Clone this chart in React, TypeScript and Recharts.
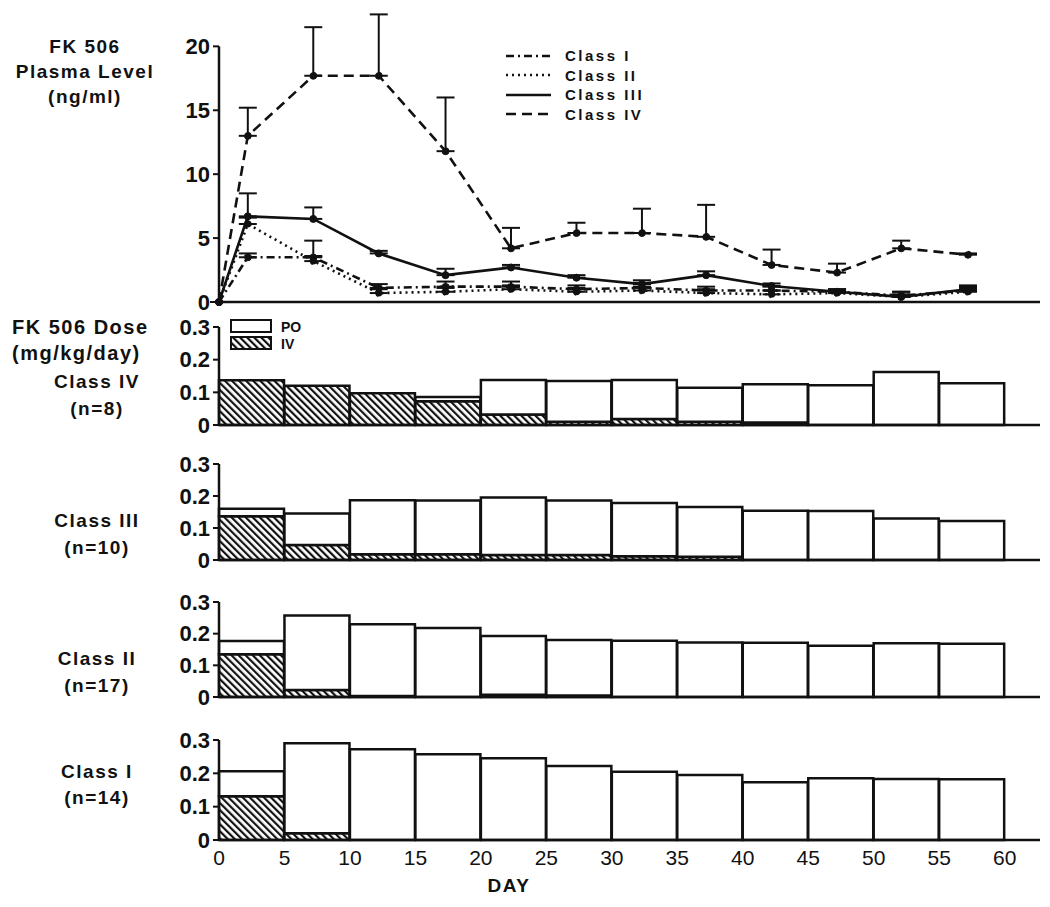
import React from 'react';
import {
  LineChart,
  Line,
  BarChart,
  Bar,
  XAxis,
  YAxis,
  ErrorBar,
  ReferenceLine,
  Legend,
} from 'recharts';

const FONT = "'Liberation Sans', Arial, Helvetica, sans-serif";
const INK = '#111';

// FK 506 plasma level (ng/ml): mean and upper SE per sampling day
const sampleDays = [0, 2.2, 7.2, 12.2, 17.3, 22.3, 27.3, 32.3, 37.2, 42.2, 47.2, 52.1, 57.2];
const classI = [0, 3.5, 3.5, 1.1, 1.2, 1.2, 1.0, 1.1, 0.9, 0.9, 0.8, 0.5, 0.9];
const classIErr = [0, 0.3, 1.3, 0.3, 0.4, 0.4, 0.3, 0.4, 0.3, 0.3, 0.2, 0.3, 0.3];
const classII = [0, 6.1, 3.2, 0.7, 0.8, 1.0, 0.8, 0.9, 0.7, 0.6, 0.7, 0.4, 0.8];
const classIIErr = [0, 0.5, 0.4, 0.3, 0.3, 0.3, 0.3, 0.3, 0.3, 0.3, 0.2, 0.2, 0.3];
const classIII = [0, 6.7, 6.5, 3.8, 2.1, 2.7, 1.9, 1.4, 2.1, 1.25, 0.8, 0.4, 1.0];
const classIIIErr = [0, 1.8, 0.9, 0.2, 0.5, 0.2, 0.2, 0.3, 0.3, 0.2, 0.2, 0.4, 0.3];
const classIV = [0, 13.0, 17.7, 17.7, 11.8, 4.2, 5.4, 5.4, 5.1, 2.9, 2.3, 4.2, 3.7];
const classIVErr = [0, 2.2, 3.8, 4.8, 4.2, 1.6, 0.8, 1.9, 2.5, 1.2, 0.7, 0.6, 0.1];

const seriesNames = ['Class I', 'Class II', 'Class III', 'Class IV'];
const seriesDash = ['8 4 2 4', '2 4', '0', '10 6'];
const plasmaTicks = [0, 5, 10, 15, 20];

// FK 506 dose (mg/kg/day) in 5-day blocks
const doseMid = [2.5, 7.5, 12.5, 17.5, 22.5, 27.5, 32.5, 37.5, 42.5, 47.5, 52.5, 57.5];
const dayTicks = [0, 5, 10, 15, 20, 25, 30, 35, 40, 45, 50, 55, 60];
const doseTicks = [0, 0.1, 0.2, 0.3];

const ivClassIV = [0.137, 0.12, 0.097, 0.073, 0.032, 0.01, 0.018, 0.01, 0.008, 0, 0, 0];
const poClassIV = [0, 0, 0, 0.013, 0.106, 0.125, 0.12, 0.104, 0.117, 0.122, 0.162, 0.128];
const ivClassIII = [0.137, 0.047, 0.018, 0.018, 0.016, 0.016, 0.012, 0.01, 0, 0, 0, 0];
const poClassIII = [0.023, 0.098, 0.169, 0.168, 0.179, 0.17, 0.166, 0.156, 0.154, 0.153, 0.13, 0.122];
const ivClassII = [0.135, 0.022, 0.003, 0, 0.007, 0.005, 0, 0, 0, 0, 0, 0];
const poClassII = [0.042, 0.235, 0.227, 0.218, 0.186, 0.175, 0.178, 0.172, 0.171, 0.162, 0.17, 0.168];
const ivClassI = [0.131, 0.02, 0, 0, 0, 0, 0, 0, 0, 0, 0, 0];
const poClassI = [0.075, 0.27, 0.272, 0.257, 0.245, 0.222, 0.205, 0.195, 0.173, 0.185, 0.183, 0.182];

const plasmaRows = sampleDays.map((day, i) => ({
  day,
  c1: classI[i],
  c1e: [0, classIErr[i]],
  c2: classII[i],
  c2e: [0, classIIErr[i]],
  c3: classIII[i],
  c3e: [0, classIIIErr[i]],
  c4: classIV[i],
  c4e: [0, classIVErr[i]],
}));

const panels = [
  { iv: ivClassIV, po: poClassIV, top: 327, bottom: 425, name: 'Class IV', n: '(n=8)' },
  { iv: ivClassIII, po: poClassIII, top: 464, bottom: 560, name: 'Class III', n: '(n=10)' },
  { iv: ivClassII, po: poClassII, top: 602, bottom: 697, name: 'Class II', n: '(n=17)' },
  { iv: ivClassI, po: poClassI, top: 740, bottom: 840, name: 'Class I', n: '(n=14)' },
];

const X_DOMAIN: [number, number] = [0, 62.7];
const MARGIN_LEFT = 179;
const Y_WIDTH = 40;
const PANEL_PAD = 14;

const tickStyle = { fill: INK, fontFamily: FONT, fontWeight: 700, fontSize: 22 };

function Text({ x, y, children, align = 'center', size = 19 }: any) {
  return (
    <div
      style={{
        position: 'absolute',
        left: x,
        top: y,
        transform: align === 'center' ? 'translate(-50%, -50%)' : 'translate(0, -50%)',
        fontFamily: FONT,
        fontWeight: 700,
        fontSize: size,
        letterSpacing: 1.5,
        whiteSpace: 'nowrap',
        color: INK,
      }}
    >
      {children}
    </div>
  );
}

function lineLegend() {
  return (
    <div style={{ fontFamily: FONT, fontWeight: 700, fontSize: 15, letterSpacing: 2.5, color: INK }}>
      {seriesNames.map((name, i) => (
        <div key={name} style={{ display: 'flex', alignItems: 'center', height: 19.5 }}>
          <svg width={46} height={8}>
            <line x1={0} y1={4} x2={45} y2={4} stroke={INK} strokeWidth={2.5} strokeDasharray={seriesDash[i]} />
          </svg>
          <span style={{ marginLeft: 13 }}>{name}</span>
        </div>
      ))}
    </div>
  );
}

function doseLegend() {
  return (
    <div style={{ fontFamily: FONT, fontWeight: 700, fontSize: 14, color: INK }}>
      <div style={{ display: 'flex', alignItems: 'center', height: 17 }}>
        <svg width={42} height={15}>
          <rect x={1} y={1} width={40} height={12} fill="#fff" stroke={INK} strokeWidth={2} />
        </svg>
        <span style={{ marginLeft: 9 }}>PO</span>
      </div>
      <div style={{ display: 'flex', alignItems: 'center', height: 17 }}>
        <svg width={42} height={15}>
          <defs>
            <pattern id="hatchLegend" width={5} height={5} patternUnits="userSpaceOnUse" patternTransform="rotate(-45)">
              <rect width={5} height={5} fill="#fff" />
              <rect width={2.2} height={5} fill={INK} />
            </pattern>
          </defs>
          <rect x={1} y={1} width={40} height={12} fill="url(#hatchLegend)" stroke={INK} strokeWidth={2} />
        </svg>
        <span style={{ marginLeft: 9 }}>IV</span>
      </div>
    </div>
  );
}

function PlasmaChart() {
  const keys = ['c1', 'c2', 'c3', 'c4'];
  return (
    <div style={{ position: 'absolute', left: 0, top: 0 }}>
      <LineChart width={1050} height={322} data={plasmaRows} margin={{ top: 8, right: 10, bottom: 10, left: MARGIN_LEFT }}>
        <XAxis
          type="number"
          dataKey="day"
          domain={X_DOMAIN}
          ticks={dayTicks}
          interval={0}
          height={10}
          tick={false}
          tickSize={7}
          axisLine={{ stroke: INK, strokeWidth: 2.5 }}
          tickLine={{ stroke: INK, strokeWidth: 2 }}
        />
        <YAxis
          type="number"
          domain={[0, 23]}
          ticks={plasmaTicks}
          interval={0}
          width={Y_WIDTH}
          tickSize={6}
          tickMargin={3}
          axisLine={false}
          tickLine={{ stroke: INK, strokeWidth: 2 }}
          tick={tickStyle}
        />
        <ReferenceLine
          segment={[
            { x: 0, y: 0 },
            { x: 0, y: 20 },
          ]}
          stroke={INK}
          strokeWidth={2.5}
        />
        <Legend
          layout="vertical"
          align="center"
          verticalAlign="middle"
          content={lineLegend}
          wrapperStyle={{ top: 46, left: 506, width: 220, height: 80 }}
        />
        {keys.map((k, i) => (
          <Line
            key={k}
            type="linear"
            dataKey={k}
            name={seriesNames[i]}
            stroke={INK}
            strokeWidth={2.6}
            strokeDasharray={seriesDash[i]}
            dot={{ r: 3.5, fill: INK, stroke: INK, strokeWidth: 1 }}
            activeDot={false}
            isAnimationActive={false}
          >
            <ErrorBar dataKey={`${k}e`} direction="y" width={9} stroke={INK} strokeWidth={2} />
          </Line>
        ))}
      </LineChart>
    </div>
  );
}

function DosePanel({ idx }: { idx: number }) {
  const p = panels[idx];
  const last = idx === panels.length - 1;
  const xh = last ? 36 : 12;
  const h = PANEL_PAD + (p.bottom - p.top) + xh;
  const rows = doseMid.map((mid, i) => ({ mid, iv: p.iv[i], po: p.po[i] }));
  return (
    <div style={{ position: 'absolute', left: 0, top: p.top - PANEL_PAD }}>
      <BarChart
        width={1050}
        height={h}
        data={rows}
        margin={{ top: PANEL_PAD, right: 10, bottom: 0, left: MARGIN_LEFT }}
        barCategoryGap={0}
        barGap={0}
      >
        <defs>
          <pattern id={`hatch${idx}`} width={5} height={5} patternUnits="userSpaceOnUse" patternTransform="rotate(-45)">
            <rect width={5} height={5} fill="#fff" />
            <rect width={2.2} height={5} fill={INK} />
          </pattern>
        </defs>
        <XAxis
          type="number"
          dataKey="mid"
          domain={X_DOMAIN}
          ticks={dayTicks}
          interval={0}
          height={xh}
          tickSize={6}
          tickMargin={4}
          tickLine={false}
          axisLine={{ stroke: INK, strokeWidth: 2.5 }}
          tick={last ? { fill: INK, fontFamily: FONT, fontSize: 21 } : false}
        />
        <YAxis
          type="number"
          domain={[0, 0.3]}
          ticks={doseTicks}
          interval={0}
          width={Y_WIDTH}
          tickSize={6}
          tickMargin={3}
          axisLine={{ stroke: INK, strokeWidth: 2.5 }}
          tickLine={{ stroke: INK, strokeWidth: 2 }}
          tick={tickStyle}
          tickFormatter={(v: number) => String(v)}
        />
        {idx === 0 && (
          <Legend
            layout="vertical"
            align="center"
            verticalAlign="middle"
            content={doseLegend}
            wrapperStyle={{ top: PANEL_PAD - 9, left: 230, width: 90, height: 36 }}
          />
        )}
        <Bar dataKey="iv" stackId="dose" fill={`url(#hatch${idx})`} stroke={INK} strokeWidth={2.5} isAnimationActive={false} />
        <Bar dataKey="po" stackId="dose" fill="#fff" stroke={INK} strokeWidth={2.5} isAnimationActive={false} />
      </BarChart>
    </div>
  );
}

export default function App() {
  return (
    <div style={{ position: 'absolute', left: 0, top: 0, width: 1050, height: 907, background: '#fff', overflow: 'hidden' }}>
      <PlasmaChart />
      {panels.map((p, i) => (
        <DosePanel key={p.name} idx={i} />
      ))}
      <Text x={85} y={47}>FK 506</Text>
      <Text x={85} y={72}>Plasma Level</Text>
      <Text x={85} y={97}>(ng/ml)</Text>
      <Text x={12} y={327} align="left" size={20}>FK 506 Dose</Text>
      <Text x={12} y={353} align="left" size={20}>(mg/kg/day)</Text>
      {panels.map((p) => (
        <React.Fragment key={p.name}>
          <Text x={97} y={p.name === 'Class IV' ? 382 : p.name === 'Class I' ? 772 : p.top + 57}>{p.name}</Text>
          <Text x={97} y={p.name === 'Class IV' ? 409 : p.name === 'Class I' ? 798 : p.top + 84}>{p.n}</Text>
        </React.Fragment>
      ))}
      <Text x={509} y={886}>DAY</Text>
    </div>
  );
}
